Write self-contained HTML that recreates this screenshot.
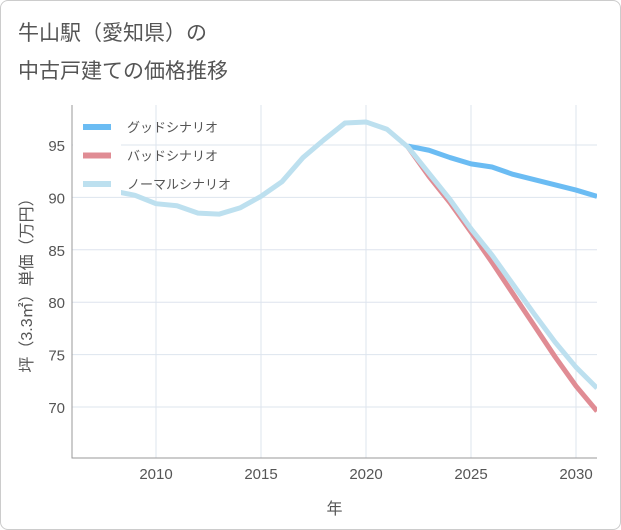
<!DOCTYPE html>
<html><head><meta charset="utf-8"><style>
body{margin:0;background:#fff;font-family:"Liberation Sans","Noto Sans CJK JP",sans-serif;}
#wrap{position:relative;width:619px;height:528px;border:1px solid #ccc;border-radius:8px;overflow:hidden;background:#fff}
</style></head><body>
<div id="wrap">
<svg id="chart" width="621" height="530" style="position:absolute;left:-1px;top:-1px">
<text x="18" y="40" font-size="21" fill="#555">牛山駅（愛知県）の</text>
<text x="18" y="78" font-size="21" fill="#555">中古戸建ての価格推移</text>
<g id="grid"></g><g id="lines"></g><g id="axes"></g><g id="legend"></g>
</svg></div>
<script>
const years=[2008,2009,2010,2011,2012,2013,2014,2015,2016,2017,2018,2019,2020,2021,2022,2023,2024,2025,2026,2027,2028,2029,2030,2031];
const normal=[90.6,90.2,89.4,89.2,88.5,88.4,89.0,90.1,91.5,93.8,95.5,97.1,97.2,96.5,94.8,92.3,89.8,87.0,84.5,81.7,78.9,76.2,73.8,71.8];
const goodYears=[2022,2023,2024,2025,2026,2027,2028,2029,2030,2031];
const good=[94.9,94.5,93.8,93.2,92.9,92.2,91.7,91.2,90.7,90.1];
const badYears=[2022,2023,2024,2025,2026,2027,2028,2029,2030,2031];
const bad=[94.8,92.0,89.5,86.7,83.8,80.8,77.8,74.8,72.0,69.6];
const xTicks=[2010,2015,2020,2025,2030];
const yTicks=[70,75,80,85,90,95];
const legendLabels=["グッドシナリオ","バッドシナリオ","ノーマルシナリオ"];
const L=72,R=597,T=105,B=458;
const x=v=>L+(v-2006)*(R-L)/25;
const y=v=>145+(95-v)*(407-145)/25;
const NS="http://www.w3.org/2000/svg";
function mk(tag,parent,attrs){const e=document.createElementNS(NS,tag);for(const k in attrs)e.setAttribute(k,attrs[k]);document.getElementById(parent).appendChild(e);return e;}
const bg=mk('rect','grid',{x:L,y:T,width:R-L,height:B-T,fill:'#fff',stroke:'none'});


xTicks.forEach(t=>{const l=mk('line','grid',{x1:x(t),x2:x(t),y1:T,y2:B,stroke:'#dde4ee'});


const tx=mk('text','axes',{x:x(t),y:B+21,'font-size':15,fill:'#555','text-anchor':'middle'});tx.textContent=t;

});
yTicks.forEach(t=>{const l=mk('line','grid',{x1:L,x2:R,y1:y(t),y2:y(t),stroke:'#dde4ee'});


const tx=mk('text','axes',{x:L-7,y:y(t)+6,'font-size':15,fill:'#555','text-anchor':'end'});tx.textContent=t;

});
const ax=mk('path','axes',{d:`M${L},${T}V${B}H${R}`,stroke:'#999',fill:'none'});


const xt=mk('text','axes',{x:(L+R)/2,y:514,'font-size':16,fill:'#555','text-anchor':'middle'});xt.textContent='年';


const yt=mk('text','axes',{x:0,y:0,'font-size':16,fill:'#555','text-anchor':'middle',transform:`translate(32,${(T+B)/2}) rotate(-90)`});yt.textContent='坪（3.3㎡）単価（万円）';


function line(xs,vs,color,name){const d=xs.map((v,i)=>(i?'L':'M')+x(v)+','+y(vs[i])).join('');
const p=mk('path','lines',{d:d,stroke:color,'stroke-width':5,fill:'none','stroke-linejoin':'round'});

}
const cp=mk('clipPath','lines',{id:'cp'});mk('rect','lines',{});
const cr=document.createElementNS(NS,'rect');cr.setAttribute('x',L);cr.setAttribute('y',T);cr.setAttribute('width',R-L);cr.setAttribute('height',B-T);cp.appendChild(cr);
document.getElementById('lines').setAttribute('clip-path','url(#cp)');
line(goodYears,good,'#6bbcf3','good-scenario-line');
line(badYears,bad,'#e08c94','bad-scenario-line');
line(years,normal,'#bde0ef','normal-scenario-line');
const lb=mk('rect','legend',{x:L+1,y:112,width:48,height:84,fill:'#fff'});


const lc=['#6bbcf3','#e08c94','#bde0ef'];
legendLabels.forEach((s,i)=>{const yy=127+i*28.5;
const l=mk('line','legend',{x1:83,x2:111,y1:yy,y2:yy,stroke:lc[i],'stroke-width':6});


const t=mk('text','legend',{x:127,y:yy+5,'font-size':13,fill:'#555'});t.textContent=s;

});
</script></body></html>
